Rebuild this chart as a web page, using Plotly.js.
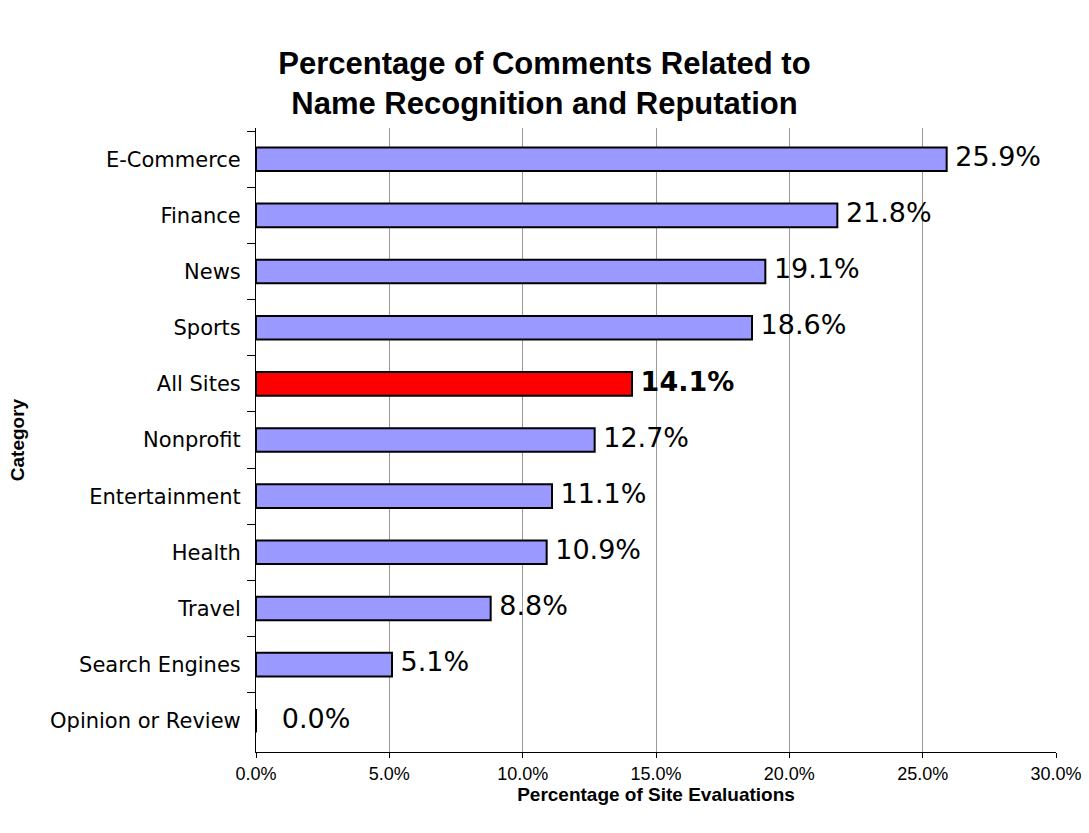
<!DOCTYPE html>
<html>
<head>
<meta charset="utf-8">
<script src="https://cdn.plot.ly/plotly-3.0.1.min.js"></script>
<style>html,body{margin:0;padding:0;background:#fff;}#chart{width:1089px;height:833px;}</style>
</head>
<body>
<div id="chart"></div>
<script>
const categories = ["E-Commerce","Finance","News","Sports","All Sites","Nonprofit","Entertainment","Health","Travel","Search Engines","Opinion or Review"];
const values = [25.9,21.8,19.1,18.6,14.1,12.7,11.1,10.9,8.8,5.1,0.0];
const highlight = "All Sites";
const xTicks = [0,5,10,15,20,25,30];

const barColors = categories.map(c => c === highlight ? "#FF0000" : "#9999FF");
const labelTexts = values.map((v,i) => {
  const pad = v === 0 ? "   " : " ";
  const s = v.toFixed(1) + "%";
  return categories[i] === highlight ? pad + "<b>" + s + "</b>" : pad + s;
});

const data = [
  {
    type: "bar",
    orientation: "h",
    y: categories,
    x: values,
    width: 0.42,
    marker: {color: barColors, line: {color: "#000000", width: 2}},
    hoverinfo: "none"
  },
  {
    type: "scatter",
    mode: "text",
    y: categories,
    x: values,
    text: labelTexts,
    textposition: "middle right",
    textfont: {family: "DejaVu Sans, Verdana, sans-serif", size: 27, color: "#000"},
    hoverinfo: "none",
    cliponaxis: false
  }
];

const layout = {
  width: 1089,
  height: 833,
  margin: {l: 256, r: 33, t: 128, b: 81},
  paper_bgcolor: "#fff",
  plot_bgcolor: "#fff",
  showlegend: false,
  title: {
    text: "<b>Percentage of Comments Related to<br>Name Recognition and Reputation</b>",
    font: {family: "Liberation Sans, Arial, sans-serif", size: 31, color: "#000"},
    x: 0.5, xanchor: "center", y: 0.911, yanchor: "top"
  },
  xaxis: {
    range: [0, 30],
    tickvals: xTicks,
    ticktext: xTicks.map(v => v.toFixed(1) + "%"),
    tickfont: {family: "Liberation Sans, Arial, sans-serif", size: 18, color: "#000"},
    showgrid: true,
    gridcolor: "#9a9a9a",
    gridwidth: 1,
    showline: true,
    linecolor: "#000",
    linewidth: 1,
    ticks: "outside",
    ticklen: 5,
    tickcolor: "#000",
    zeroline: false,
    fixedrange: true,
    title: {
      text: "<b>Percentage of Site Evaluations</b>",
      font: {family: "Liberation Sans, Arial, sans-serif", size: 19, color: "#000"},
      standoff: 0
    }
  },
  yaxis: {
    type: "category",
    autorange: "reversed",
    tickson: "boundaries",
    ticks: "outside",
    ticklen: 8,
    tickcolor: "#000",
    ticklabelstandoff: 10,
    showline: true,
    linecolor: "#000",
    linewidth: 1,
    showgrid: false,
    zeroline: false,
    tickfont: {family: "DejaVu Sans, Verdana, sans-serif", size: 21, color: "#000"},
    fixedrange: true,
    title: {
      text: "<b>Category</b>",
      font: {family: "Liberation Sans, Arial, sans-serif", size: 19, color: "#000"},
      standoff: 20
    }
  },
  bargap: 0.58
};

Plotly.newPlot("chart", data, layout, {displayModeBar: false, staticPlot: true});
</script>
</body>
</html>
